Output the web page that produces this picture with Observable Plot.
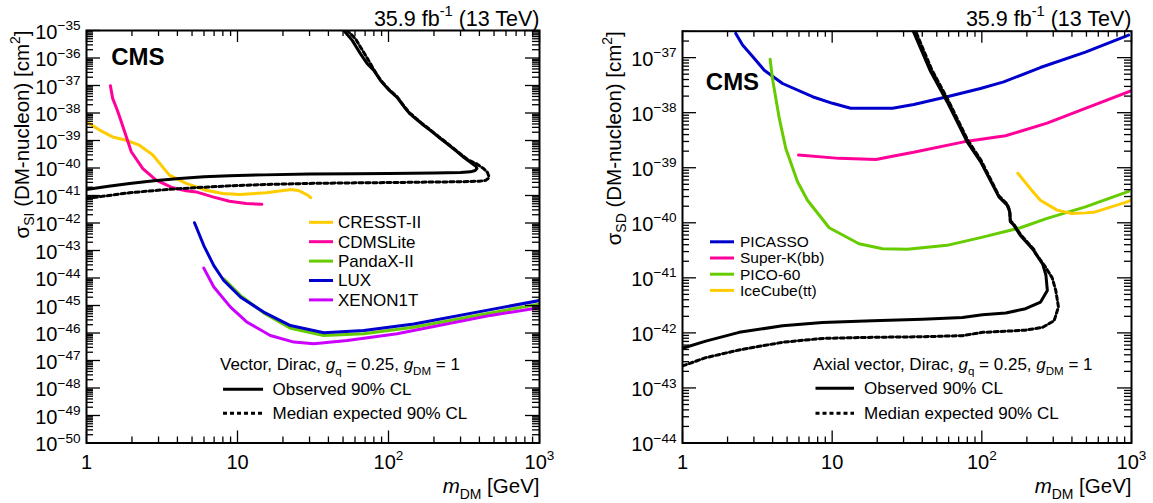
<!DOCTYPE html>
<html><head><meta charset="utf-8">
<script src="https://cdn.jsdelivr.net/npm/d3@7"></script>
<script src="https://cdn.jsdelivr.net/npm/@observablehq/plot@0.6"></script>
<style>
html,body{margin:0;padding:0;background:#fff}
#wrap{display:flex;width:1153px;height:503px;overflow:hidden}
svg{display:block;overflow:visible}
</style>
</head><body><div id="wrap"></div>
<script>
const FONT = "'Liberation Sans', Arial, Helvetica, sans-serif";

// ---------- data: [m_DM (GeV), log10(sigma / cm^2)] ----------
// Left panel: spin-independent (vector mediator)
const siObserved = [[1,-40.78],[1.4,-40.66],[1.93,-40.56],[2.8,-40.46],[4.13,-40.38],[6,-40.32],[8.85,-40.28],[15,-40.25],[30,-40.22],[60,-40.21],[100,-40.2],[200,-40.18],[300,-40.16],[349,-40.14],[375,-40.09],[385,-40.02],[380,-39.94],[367,-39.88],[340,-39.75],[315,-39.61],[280,-39.38],[245,-39.12],[215,-38.88],[190,-38.64],[165,-38.38],[147,-38.15],[142,-38.07],[138,-38.02],[130,-37.85],[114,-37.43],[100,-37.15],[88.5,-36.82],[80,-36.45],[72.3,-36.21],[65.3,-35.85],[57.5,-35.36],[50.6,-35.0]];
const siExpected = [[1,-41.11],[1.4,-41.0],[1.93,-40.9],[2.8,-40.82],[4.13,-40.75],[6,-40.7],[8.85,-40.65],[15,-40.6],[30,-40.56],[60,-40.54],[100,-40.53],[200,-40.51],[300,-40.5],[400,-40.48],[440,-40.45],[460,-40.37],[462,-40.3],[452,-40.16],[428,-40.03],[400,-39.92],[387,-39.86],[367,-39.8],[340,-39.72],[315,-39.58],[280,-39.36],[245,-39.1],[215,-38.86],[190,-38.62],[165,-38.36],[147,-38.13],[142,-38.05],[138,-38.0],[130,-37.83],[114,-37.41],[100,-37.13],[88.5,-36.8],[80,-36.43],[76,-36.21],[70.4,-35.9],[60.4,-35.3],[53.3,-35.0]];
const cresst = [[1,-38.32],[1.22,-38.62],[1.49,-38.87],[1.83,-38.99],[2.24,-39.17],[2.75,-39.53],[3.54,-40.26],[4.57,-40.56],[6.2,-40.81],[8.0,-40.93],[10.3,-40.96],[15.5,-40.9],[22.7,-40.78],[25.7,-40.83],[29.2,-40.99],[30.5,-41.08]];
const cdmslite = [[1.44,-37.01],[1.49,-37.47],[1.6,-37.9],[1.7,-38.32],[1.98,-39.41],[2.36,-40.02],[2.89,-40.44],[3.73,-40.72],[4.57,-40.83],[5.32,-40.87],[6.85,-41.05],[8.85,-41.21],[11.4,-41.29],[14.5,-41.32]];
const pandax = [[8.11,-44.03],[10.5,-44.64],[14.9,-45.27],[22.4,-45.83],[37.3,-46.09],[68.6,-46.03],[147,-45.79],[474,-45.27],[1000,-44.95]];
const lux = [[5.19,-41.99],[5.98,-42.82],[6.97,-43.55],[8.11,-44.09],[10.5,-44.7],[14.9,-45.24],[22.4,-45.73],[37.3,-45.99],[68.6,-45.91],[147,-45.67],[474,-45.15],[1000,-44.82]];
const xenon1t = [[5.98,-43.64],[6.97,-44.33],[8.99,-45.06],[11.6,-45.61],[16.5,-46.09],[23.6,-46.33],[32,-46.39],[53.3,-46.27],[114,-46.03],[474,-45.36],[1000,-45.08]];

// Right panel: spin-dependent (axial-vector mediator)
const sdObserved = [[1,-42.28],[1.43,-42.15],[2.39,-41.99],[4.66,-41.87],[8.61,-41.81],[18.6,-41.78],[40.1,-41.75],[74.2,-41.72],[101,-41.67],[144.5,-41.64],[196,-41.56],[247,-41.44],[274,-41.23],[268,-40.95],[255,-40.75],[222,-40.5],[181,-40.23],[163,-40.04],[155,-39.98],[153.6,-39.8],[147.6,-39.68],[130,-39.53],[98,-38.89],[79.8,-38.53],[58.6,-37.8],[45.4,-37.25],[34.2,-36.47]];
const sdExpected = [[1,-42.6],[1.43,-42.45],[2.39,-42.31],[4.66,-42.17],[8.61,-42.1],[18.6,-42.08],[40.1,-42.07],[74.2,-42.05],[101,-41.99],[144.5,-41.97],[196,-41.95],[254,-41.9],[304,-41.78],[325,-41.53],[312,-41.23],[295,-41.0],[267,-40.81],[229,-40.56],[222,-40.48],[181,-40.21],[163,-40.02],[155,-39.96],[153.6,-39.78],[147.6,-39.66],[130,-39.51],[98.5,-38.86],[80.5,-38.5],[59.5,-37.77],[46.3,-37.22],[35.5,-36.47]];
const picasso = [[2.27,-36.56],[2.52,-36.77],[2.94,-36.98],[3.52,-37.23],[4.66,-37.47],[7.39,-37.71],[10.05,-37.83],[13.3,-37.92],[25.3,-37.92],[35.1,-37.85],[58.6,-37.71],[97.9,-37.56],[140,-37.44],[246,-37.18],[492,-36.9],[956,-36.59]];
const superK = [[5.96,-38.77],[11.1,-38.83],[19.6,-38.85],[25.3,-38.79],[35,-38.72],[75.7,-38.53],[144,-38.42],[273,-38.19],[492,-37.92],[1000,-37.6]];
const pico60 = [[3.85,-37.03],[3.99,-37.38],[4.43,-38.1],[4.9,-38.65],[5.86,-39.25],[6.84,-39.59],[9.55,-40.09],[15.1,-40.38],[21.7,-40.47],[31.7,-40.48],[58.6,-40.41],[98,-40.27],[181,-40.09],[273,-39.92],[492,-39.71],[958,-39.43]];
const icecube = [[174,-39.1],[211,-39.38],[246,-39.59],[318,-39.77],[401,-39.83],[492,-39.82],[559,-39.81],[958,-39.61],[1000,-39.58]];

// ---------- axes / labels ----------
const xMajor = [1, 10, 100, 1000];
const xTickLabels = ["1", "10", "10^{2}", "10^{3}"];
const siYExponents = d3.range(-50, -34);
const sdYExponents = d3.range(-44, -36);
const xTitle = "*m*_{DM} [GeV]";
const lumiTitle = "35.9 fb^{-1} (13 TeV)";
const siYTitle = "σ_{SI} (DM-nucleon) [cm^{2}]";
const sdYTitle = "σ_{SD} (DM-nucleon) [cm^{2}]";
const siLegendLabels = ["CRESST-II", "CDMSLite", "PandaX-II", "LUX", "XENON1T"];
const sdLegendLabels = ["PICASSO", "Super-K(bb)", "PICO-60", "IceCube(tt)"];
const siHeader = "Vector, Dirac, *g*_{q} = 0.25, *g*_{DM} = 1";
const sdHeader = "Axial vector, Dirac, *g*_{q} = 0.25, *g*_{DM} = 1";
const clLabels = ["Observed 90% CL", "Median expected 90% CL"];

const C = {yellow: "#ffcc00", pink: "#ff0099", green: "#66cc00", blue: "#0000cc", violet: "#cc00ff", black: "#000"};
const H = 503;
const DASH = "4,3";

function minorTicks(lo, hi) {
  const out = [];
  for (let e = lo; e < hi; e++) for (let k = 2; k <= 9; k++) out.push(k * 10 ** e);
  return out;
}

function buildPanel(o) {
  const innerW = o.width - o.ml - o.mr, innerH = H - o.mt - o.mb;
  const [ylo, yhi] = o.yDomain;
  const yMajor = o.yExp.map(e => 10 ** e);
  const yMinor = minorTicks(o.yExp[0], o.yExp[o.yExp.length - 1] + 1).filter(v => v > ylo && v < yhi);
  const xMinor = minorTicks(0, 3);
  const tk = {stroke: "#000", strokeWidth: 1.3};
  const marks = [
    ...o.series.map(s => Plot.line(s.data, {x: d => d[0], y: d => 10 ** d[1], stroke: s.color,
      strokeWidth: 3, strokeDasharray: s.dash, strokeLinejoin: "round", clip: true})),
    Plot.tickX(xMajor, {x: d => d, insetTop: innerH - 12, ...tk}),
    Plot.tickX(xMajor, {x: d => d, insetBottom: innerH - 12, ...tk}),
    Plot.tickX(xMinor, {x: d => d, insetTop: innerH - 6, ...tk}),
    Plot.tickX(xMinor, {x: d => d, insetBottom: innerH - 6, ...tk}),
    Plot.tickY(yMajor, {y: d => d, insetRight: innerW - 14, ...tk}),
    Plot.tickY(yMajor, {y: d => d, insetLeft: innerW - 14, ...tk}),
    Plot.tickY(yMinor, {y: d => d, insetRight: innerW - 7, ...tk}),
    Plot.tickY(yMinor, {y: d => d, insetLeft: innerW - 7, ...tk}),
    Plot.frame({stroke: "#000", strokeWidth: 2}),
    Plot.text(xMajor, {x: d => d, text: (d, i) => xTickLabels[i], frameAnchor: "bottom", lineAnchor: "bottom", dy: 25.5, fontSize: 20}),
    Plot.text(yMajor, {y: d => d, text: (d, i) => "10^{" + String(o.yExp[i]).replace("-", "−") + "}", frameAnchor: "left", textAnchor: "end", lineAnchor: "bottom", dx: -6, dy: 8, fontSize: 20}),
    Plot.text([o.yTitle], {text: d => d, frameAnchor: "top-left", rotate: -90, textAnchor: "end", lineAnchor: "bottom", dx: o.yTitleDx, fontSize: 20.5}),
    Plot.text([xTitle], {text: d => d, frameAnchor: "bottom-right", textAnchor: "end", lineAnchor: "bottom", dy: 50, fontSize: 20.5}),
    Plot.text([lumiTitle], {text: d => d, frameAnchor: "top-right", textAnchor: "end", lineAnchor: "bottom", dy: o.lumiDy, fontSize: 21.5}),
    Plot.text(["CMS"], {text: d => d, frameAnchor: "top-left", textAnchor: "start", lineAnchor: "bottom", dx: o.cmsDx, dy: o.cmsDy, fontSize: 24, fontWeight: "bold"})
  ];
  return Plot.plot({
    width: o.width, height: H,
    marginLeft: o.ml, marginRight: o.mr, marginTop: o.mt, marginBottom: o.mb,
    x: {type: "log", domain: [1, 1000], axis: null},
    y: {type: "log", domain: o.yDomain, axis: null},
    style: {fontFamily: FONT, background: "#fff", color: "#000", overflow: "visible"},
    marks
  });
}

function addLegend(svg, L) {
  const g = d3.select(svg).append("g").attr("font-family", FONT).attr("font-size", L.fontSize)
    .attr("fill", "#000").attr("text-anchor", "start");
  L.items.forEach((it, i) => {
    const y = L.y + i * L.step;
    g.append("line").attr("x1", L.x).attr("x2", L.x + L.len).attr("y1", y).attr("y2", y)
      .attr("stroke", it.color).attr("stroke-width", 3).attr("stroke-dasharray", it.dash || null);
    g.append("text").attr("x", L.x + L.len + L.gap).attr("y", y).attr("dy", "0.35em").text(it.label);
  });
  if (L.header) g.append("text").attr("x", L.header.x).attr("y", L.header.y).attr("dy", "0.35em").text(L.header.text);
}

function richify(root) {
  const NS = "http://www.w3.org/2000/svg";
  root.querySelectorAll("text").forEach(t => {
    const s = t.textContent;
    if (!/[\^_]\{|\*/.test(s)) return;
    const fs = parseFloat(getComputedStyle(t).fontSize) || 16;
    while (t.firstChild) t.removeChild(t.firstChild);
    const re = /(\^\{[^}]*\}|_\{[^}]*\}|\*[^*]+\*)/g;
    let last = 0, m, cur = 0;
    const add = (txt, target, small, italic) => {
      const ts = document.createElementNS(NS, "tspan");
      ts.textContent = txt;
      if (target !== cur) { ts.setAttribute("dy", (target - cur).toFixed(2)); cur = target; }
      if (small) ts.setAttribute("font-size", (fs * 0.68).toFixed(2));
      if (italic) ts.setAttribute("font-style", "italic");
      t.appendChild(ts);
    };
    while ((m = re.exec(s))) {
      if (m.index > last) add(s.slice(last, m.index), 0);
      const tok = m[0];
      if (tok[0] === "^") add(tok.slice(2, -1), -0.42 * fs, true);
      else if (tok[0] === "_") add(tok.slice(2, -1), 0.28 * fs, true);
      else add(tok.slice(1, -1), 0, false, true);
      last = re.lastIndex;
    }
    if (last < s.length) add(s.slice(last), 0);
  });
}

const left = buildPanel({
  width: 576, ml: 86, mr: 37, mt: 30, mb: 60.5,
  yDomain: [1e-50, 1e-35], yExp: siYExponents, yTitle: siYTitle, yTitleDx: -58,
  lumiDy: -5, cmsDx: 24.7, cmsDy: 34,
  series: [
    {data: cresst, color: C.yellow}, {data: cdmslite, color: C.pink}, {data: pandax, color: C.green},
    {data: lux, color: C.blue}, {data: xenon1t, color: C.violet},
    {data: siExpected, color: C.black, dash: DASH}, {data: siObserved, color: C.black}
  ]
});
const siColors = [C.yellow, C.pink, C.green, C.blue, C.violet];
addLegend(left, {x: 309, y: 222.3, step: 19.4, len: 24, gap: 5, fontSize: 17,
  items: siLegendLabels.map((l, i) => ({label: l, color: siColors[i]}))});
addLegend(left, {x: 223, y: 389.3, step: 24, len: 40, gap: 9.5, fontSize: 17,
  header: {x: 220, y: 364, text: siHeader},
  items: [{label: clLabels[0], color: C.black}, {label: clLabels[1], color: C.black, dash: DASH}]});

const right = buildPanel({
  width: 577, ml: 106, mr: 22, mt: 30.7, mb: 60.5,
  yDomain: [1e-44, 10 ** -36.52], yExp: sdYExponents, yTitle: sdYTitle, yTitleDx: -62,
  lumiDy: -5.7, cmsDx: 23.3, cmsDy: 59,
  series: [
    {data: picasso, color: C.blue}, {data: superK, color: C.pink}, {data: pico60, color: C.green},
    {data: icecube, color: C.yellow},
    {data: sdExpected, color: C.black, dash: DASH}, {data: sdObserved, color: C.black}
  ]
});
const sdColors = [C.blue, C.pink, C.green, C.yellow];
addLegend(right, {x: 134, y: 241.8, step: 16.2, len: 24, gap: 6, fontSize: 15.5,
  items: sdLegendLabels.map((l, i) => ({label: l, color: sdColors[i]}))});
addLegend(right, {x: 239.5, y: 388.3, step: 25, len: 38.5, gap: 10, fontSize: 17,
  header: {x: 237, y: 364, text: sdHeader},
  items: [{label: clLabels[0], color: C.black}, {label: clLabels[1], color: C.black, dash: DASH}]});

const wrap = document.getElementById("wrap");
wrap.appendChild(left);
wrap.appendChild(right);
richify(left);
richify(right);
</script>
</body></html>
